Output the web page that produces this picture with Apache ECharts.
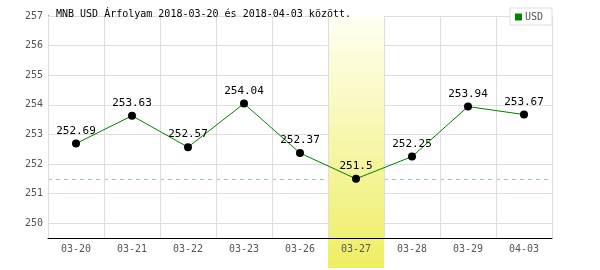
<!DOCTYPE html>
<html><head><meta charset="utf-8">
<script src="https://cdn.jsdelivr.net/npm/echarts@6/dist/echarts.min.js"></script>
<style>html,body{margin:0;padding:0;background:#fff}#c{width:600px;height:270px}</style>
</head><body><div id="c"></div>
<script>
const titleText = 'MNB USD Árfolyam 2018-03-20 és 2018-04-03 között.';
const categories = ['03-20','03-21','03-22','03-23','03-26','03-27','03-28','03-29','04-03'];
const usdValues = [252.69, 253.63, 252.57, 254.04, 252.37, 251.5, 252.25, 253.94, 253.67];
const highlightCategory = '03-27';
const minLineValue = 251.5;
const yMin = 249.5, yMax = 257;

const mono = 'DejaVu Sans Mono';
const bandData = categories.map(c => c === highlightCategory ? 1 : '-');

const chart = echarts.init(document.getElementById('c'), null, {renderer: 'canvas'});
chart.setOption({
  animation: false,
  backgroundColor: '#fff',
  title: {
    text: titleText, left: 51, top: 4,
    textStyle: {fontFamily: mono, fontSize: 10, fontWeight: 'normal', color: '#000'}
  },
  legend: {
    data: ['USD'], right: 48, top: 8, orient: 'vertical',
    backgroundColor: '#fff', borderColor: '#ddd', borderWidth: 1,
    padding: [4, 9, 3, 5], itemWidth: 7, itemHeight: 7, itemGap: 2, icon: 'rect',
    textStyle: {fontFamily: mono, fontSize: 10, color: '#555', padding: [0, 0, 0, -2]}
  },
  grid: {left: 48, right: 48, top: 16, bottom: 32, containLabel: false},
  xAxis: {
    type: 'category', data: categories, boundaryGap: true, z: 5,
    axisLine: {show: true, lineStyle: {color: '#000', width: 1}},
    axisTick: {show: false},
    axisLabel: {fontFamily: mono, fontSize: 10, color: '#555', margin: 6},
    splitLine: {show: true, lineStyle: {color: '#ddd', width: 1}}
  },
  yAxis: [{
    type: 'value', min: yMin, max: yMax, interval: 0.5,
    axisLine: {show: true, lineStyle: {color: '#000', width: 1}},
    axisTick: {show: false},
    axisLabel: {fontFamily: mono, fontSize: 10, color: '#555', margin: 5,
      formatter: v => (Math.abs(v - Math.round(v)) < 1e-6 ? String(Math.round(v)) : '')},
    splitLine: {show: true, lineStyle: {color: ['rgba(0,0,0,0)', '#ddd'], width: 1}}
  }, {
    type: 'value', min: 0.119, max: 1, show: false,
    axisLine: {show: false}, axisLabel: {show: false}, splitLine: {show: false}
  }],
  series: [{
    name: 'band', type: 'bar', yAxisIndex: 1, data: bandData,
    barWidth: '100%', clip: false, silent: true, z: 1,
    itemStyle: {color: new echarts.graphic.LinearGradient(0, 0, 0, 1, [
      {offset: 0, color: '#fffff4'}, {offset: 1, color: '#eeee62'}])}
  }, {
    name: 'USD', type: 'line', data: usdValues.map(v => ({value: v, itemStyle: {color: '#000'}})), z: 6,
    lineStyle: {color: '#008000', width: 1},
    itemStyle: {color: '#008000'},
    symbol: 'circle', symbolSize: 8,
    label: {show: true, position: 'top', distance: 3, fontFamily: mono, fontSize: 11, color: '#000'},
    emphasis: {disabled: true},
    markLine: {
      silent: true, symbol: 'none', z: 0, label: {show: false},
      lineStyle: {color: '#9c9', type: [4, 4], width: 1},
      data: [{yAxis: minLineValue}]
    }
  }]
});
</script></body></html>
